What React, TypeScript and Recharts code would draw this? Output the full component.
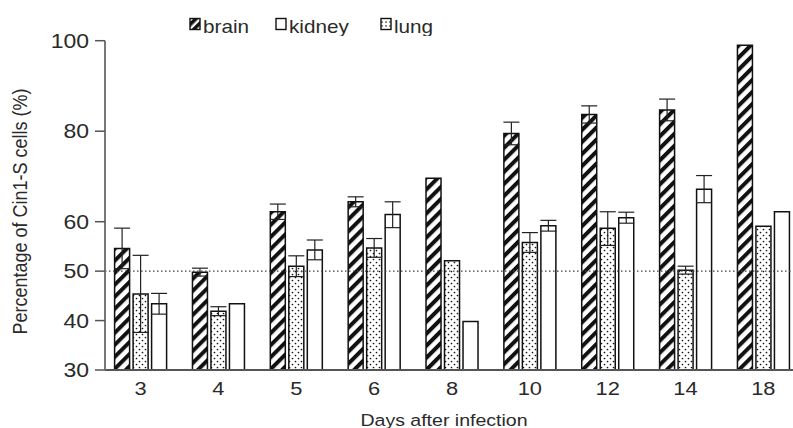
import React from 'react';
import { BarChart, Bar, XAxis, YAxis, ErrorBar, ReferenceLine, Legend } from 'recharts';

// ---------- data ----------
const days = ['3', '4', '5', '6', '8', '10', '12', '14', '18'];
const brain = [54.6, 49.8, 62.2, 64.4, 69.6, 79.5, 83.7, 84.7, 99.0];
const brainErr = [4.1, 0.8, 1.7, 1.1, null, 2.5, 1.9, 2.4, null];
const lung = [45.4, 41.9, 51.0, 54.7, 52.1, 55.8, 58.7, 50.2, 59.1];
const lungErr = [7.8, 0.9, 2.1, 1.9, null, 2.0, 3.5, 0.8, null];
const kidney = [43.4, 43.4, 54.3, 61.6, 39.8, 59.2, 60.9, 67.2, 62.2];
const kidneyErr = [2.1, null, 2.0, 2.8, null, 1.1, 1.2, 3.0, null];
const yTicks = [30, 40, 50, 60, 80, 100];
const legendNames = ['brain', 'kidney', 'lung'];
const xTitle = 'Days after infection';
const yTitle = 'Percentage of Cin1-S cells (%)';

const data = days.map((d, i) => ({
  day: d,
  brain: brain[i],
  brainErr: brainErr[i],
  lung: lung[i],
  lungErr: lungErr[i],
  kidney: kidney[i],
  kidneyErr: kidneyErr[i],
}));

// ---------- segmented y scale (axis is drawn with two different spacings) ----------
const SEG_VALUES = [30, 60, 100];
const SEG_FRACS = [0, 0.4503, 1];

function toFrac(v: number): number {
  const n = SEG_VALUES.length;
  for (let i = 0; i < n - 1; i++) {
    if (v <= SEG_VALUES[i + 1] || i === n - 2) {
      const t = (v - SEG_VALUES[i]) / (SEG_VALUES[i + 1] - SEG_VALUES[i]);
      return SEG_FRACS[i] + t * (SEG_FRACS[i + 1] - SEG_FRACS[i]);
    }
  }
  return 1;
}
function fromFrac(f: number): number {
  const n = SEG_FRACS.length;
  for (let i = 0; i < n - 1; i++) {
    if (f <= SEG_FRACS[i + 1] || i === n - 2) {
      const t = (f - SEG_FRACS[i]) / (SEG_FRACS[i + 1] - SEG_FRACS[i]);
      return SEG_VALUES[i] + t * (SEG_VALUES[i + 1] - SEG_VALUES[i]);
    }
  }
  return SEG_VALUES[n - 1];
}

function makeSegScale(dom: number[] = [30, 100], rng: number[] = [0, 1]): any {
  let domain = dom.slice();
  let range = rng.slice();
  const s: any = (v: any) => {
    const num = Number(v);
    if (!isFinite(num)) return undefined;
    return range[0] + toFrac(num) * (range[1] - range[0]);
  };
  s.domain = function (d?: any) {
    if (!arguments.length) return domain.slice();
    domain = Array.from(d as number[]).map(Number);
    return s;
  };
  s.range = function (r?: any) {
    if (!arguments.length) return range.slice();
    range = Array.from(r as number[]).map(Number);
    return s;
  };
  s.copy = () => makeSegScale(domain, range);
  s.ticks = () => yTicks.slice();
  s.invert = (px: number) => fromFrac((px - range[0]) / (range[1] - range[0]));
  s.clamp = function () {
    return arguments.length ? s : false;
  };
  s.nice = () => s;
  s.tickFormat = () => (v: any) => String(v);
  return s;
}
const segScale = makeSegScale();

// ---------- styling ----------
const FONT = '"Liberation Sans", Arial, Helvetica, sans-serif';
const STRETCH = 1.15;
const TEXT = '#2a2a2a';

const YTick = (props: any) => {
  const { x, y, payload } = props;
  return (
    <text
      transform={`translate(${x},${y}) scale(${STRETCH},1)`}
      textAnchor="end"
      dy="0.36em"
      fontSize={20}
      fontFamily={FONT}
      fill={TEXT}
    >
      {payload.value}
    </text>
  );
};

const XTick = (props: any) => {
  const { x, y, payload } = props;
  return (
    <text
      transform={`translate(${x},${y}) scale(${STRETCH},1)`}
      textAnchor="middle"
      dy="0.71em"
      fontSize={19}
      fontFamily={FONT}
      fill={TEXT}
    >
      {payload.value}
    </text>
  );
};

const XTitle = () => (
  <text
    transform={`translate(444,425.5) scale(${STRETCH},1)`}
    textAnchor="middle"
    fontSize={17}
    fontFamily={FONT}
    fill={TEXT}
  >
    {xTitle}
  </text>
);

const YTitle = () => (
  <text
    transform={`translate(26.5,211.5) scale(${STRETCH},1) rotate(-90)`}
    textAnchor="middle"
    fontSize={18}
    fontFamily={FONT}
    fill={TEXT}
  >
    {yTitle}
  </text>
);

const legendFill: Record<string, string> = {
  brain: 'url(#hatchLegend)',
  kidney: '#ffffff',
  lung: 'url(#dotsLegend)',
};
const legendIconX = [190, 276, 381];

const LegendBox = () => (
  <svg width={810} height={36} style={{ display: 'block' }}>
    <defs>
      <pattern id="hatchLegend" patternUnits="userSpaceOnUse" width="6" height="6" patternTransform="rotate(45)">
        <rect x="0" y="0" width="6" height="6" fill="#fff" />
        <rect x="0" y="0" width="3.6" height="6" fill="#111" />
      </pattern>
      <pattern id="dotsLegend" patternUnits="userSpaceOnUse" width="4" height="4">
        <rect x="0" y="0" width="4" height="4" fill="#fff" />
        <circle cx="2" cy="2" r="0.8" fill="#111" />
      </pattern>
    </defs>
    {legendNames.map((name, i) => (
      <g key={name}>
        <rect
          x={legendIconX[i]}
          y={18.5}
          width={10}
          height={11}
          fill={legendFill[name]}
          stroke="#111"
          strokeWidth={1.4}
        />
        <text
          transform={`translate(${legendIconX[i] + 13},33) scale(${STRETCH},1)`}
          fontSize={18}
          fontFamily={FONT}
          fill={TEXT}
        >
          {name}
        </text>
      </g>
    ))}
  </svg>
);

export default function App() {
  return (
    <div
      style={{
        position: 'absolute',
        left: 0,
        top: 0,
        width: 793,
        height: 428,
        overflow: 'hidden',
        background: '#fff',
      }}
    >
      <BarChart
        width={810}
        height={428}
        data={data}
        margin={{ top: 4.7, right: 7.7, bottom: 0, left: 0 }}
        barSize={15}
        barGap={3.5}
      >
        <defs>
          <pattern id="hatch" patternUnits="userSpaceOnUse" width="8.5" height="8.5" patternTransform="rotate(45)">
            <rect x="0" y="0" width="8.5" height="8.5" fill="#fff" />
            <rect x="0" y="0" width="4" height="8.5" fill="#111" />
          </pattern>
          <pattern id="dots" patternUnits="userSpaceOnUse" width="6" height="6">
            <rect x="0" y="0" width="6" height="6" fill="#fff" />
            <circle cx="1.5" cy="1.5" r="0.85" fill="#111" />
            <circle cx="4.5" cy="4.5" r="0.85" fill="#111" />
          </pattern>
        </defs>
        <Legend
          verticalAlign="top"
          align="center"
          layout="horizontal"
          wrapperStyle={{ top: 0, left: 0, width: 810, height: 36 }}
          content={() => <LegendBox />}
        />
        <XAxis
          dataKey="day"
          type="category"
          interval={0}
          height={58}
          padding={{ left: -3.4, right: 0 }}
          axisLine={{ stroke: '#555', strokeWidth: 2 }}
          tickLine={false}
          tickSize={0}
          tickMargin={12}
          tick={<XTick />}
          label={{ content: () => <XTitle /> }}
        />
        <YAxis
          type="number"
          domain={[30, 100]}
          ticks={yTicks}
          scale={segScale}
          allowDataOverflow
          interval={0}
          width={105}
          axisLine={{ stroke: '#777', strokeWidth: 2 }}
          tickLine={{ stroke: '#555', strokeWidth: 1.5 }}
          tickSize={10}
          tickMargin={6}
          tick={<YTick />}
          label={{ content: () => <YTitle /> }}
        />
        <Bar dataKey="brain" fill="url(#hatch)" stroke="#111" strokeWidth={1.5} isAnimationActive={false}>
          <ErrorBar dataKey="brainErr" width={8} stroke="#222" strokeWidth={1.2} />
        </Bar>
        <Bar dataKey="lung" fill="url(#dots)" stroke="#111" strokeWidth={1.5} isAnimationActive={false}>
          <ErrorBar dataKey="lungErr" width={8} stroke="#222" strokeWidth={1.2} />
        </Bar>
        <Bar dataKey="kidney" fill="#ffffff" stroke="#111" strokeWidth={1.5} isAnimationActive={false}>
          <ErrorBar dataKey="kidneyErr" width={8} stroke="#222" strokeWidth={1.2} />
        </Bar>
        <ReferenceLine y={50} stroke="#444" strokeDasharray="1.5 2.5" strokeWidth={1.3} />
      </BarChart>
    </div>
  );
}
